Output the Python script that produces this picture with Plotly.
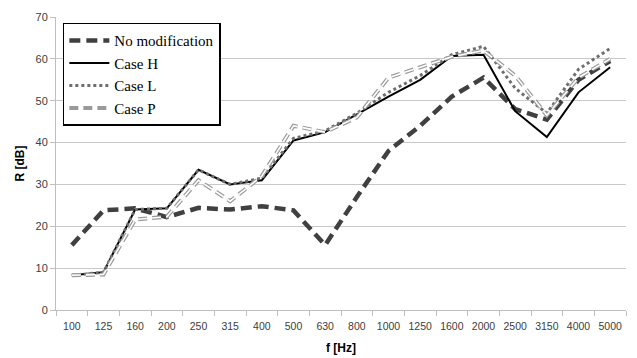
import plotly.graph_objects as go

freqs = ["100", "125", "160", "200", "250", "315", "400", "500", "630", "800",
         "1000", "1250", "1600", "2000", "2500", "3150", "4000", "5000"]
no_mod = [15.5, 23.8, 24.3, 22.2, 24.4, 24.0, 24.8, 23.8, 15.5, 27.0,
          38.0, 44.0, 51.0, 55.5, 48.0, 45.5, 55.0, 59.5]
case_h = [8.3, 9.0, 24.0, 24.3, 33.5, 30.0, 31.0, 40.5, 42.5, 46.8,
          51.0, 55.0, 60.7, 61.0, 47.5, 41.3, 52.0, 58.0]
case_l = [8.3, 9.0, 24.0, 24.3, 33.5, 30.0, 31.5, 41.0, 42.8, 47.0,
          52.0, 56.0, 61.0, 63.0, 53.0, 47.0, 57.5, 62.5]
case_p = [8.3, 8.5, 21.6, 22.3, 31.0, 26.0, 32.0, 44.0, 42.5, 46.0,
          55.5, 58.0, 60.5, 62.0, 56.0, 46.5, 55.5, 60.0]

fig = go.Figure()
fig.add_trace(go.Scatter(x=freqs, y=no_mod, mode="lines", name="No modification",
                         line=dict(color="#404040", width=4.5, dash="11px,6px")))
fig.add_trace(go.Scatter(x=freqs, y=case_h, mode="lines", name="Case H",
                         line=dict(color="#000000", width=2)))
fig.add_trace(go.Scatter(x=freqs, y=case_l, mode="lines", name="Case L",
                         line=dict(color="#6e6e6e", width=3, dash="dot")))
fig.add_trace(go.Scatter(x=freqs, y=case_p, mode="lines", name="Case P",
                         line=dict(color="#9a9a9a", width=4, dash="9px,5px")))
fig.add_trace(go.Scatter(x=freqs, y=case_p, mode="lines", name="Case P",
                         showlegend=False, hoverinfo="skip",
                         line=dict(color="#ffffff", width=1.6, dash="9px,5px")))

tick_font = dict(family="Liberation Sans, Arial", size=11, color="#404040")
fig.update_layout(
    width=637, height=358,
    margin=dict(l=56, r=11, t=12, b=48),
    paper_bgcolor="white", plot_bgcolor="white",
    showlegend=True,
    legend=dict(x=0.012, y=0.98, xanchor="left", yanchor="top",
                bgcolor="white", bordercolor="#000000", borderwidth=1.5,
                font=dict(family="Liberation Serif, Times New Roman", size=15, color="#000000"),
                tracegroupgap=0, itemwidth=40),
    xaxis=dict(type="category", tickfont=dict(family="Liberation Sans, Arial", size=10.5, color="#404040"),
               tickangle=0, range=[-0.5, 17.5], showgrid=False, ticklabelstandoff=6,
               automargin=False,
               showline=True, linecolor="#bfbfbf", linewidth=1,
               ticks="outside", tickson="boundaries", ticklen=5, tickcolor="#bfbfbf",
               title=dict(text="<b>f [Hz]</b>", font=dict(family="Liberation Sans, Arial", size=12, color="#000000"), standoff=13)),
    yaxis=dict(range=[0, 70], dtick=10, tickfont=tick_font,
               showgrid=True, gridcolor="#c8c8c8", gridwidth=1,
               showline=True, linecolor="#bfbfbf", linewidth=1,
               ticks="outside", ticklen=5, tickcolor="#bfbfbf", zeroline=False,
               title=dict(text="<b>R [dB]</b>", font=dict(family="Liberation Sans, Arial", size=12, color="#000000"), standoff=8)),
)

fig.write_html("out.html")
